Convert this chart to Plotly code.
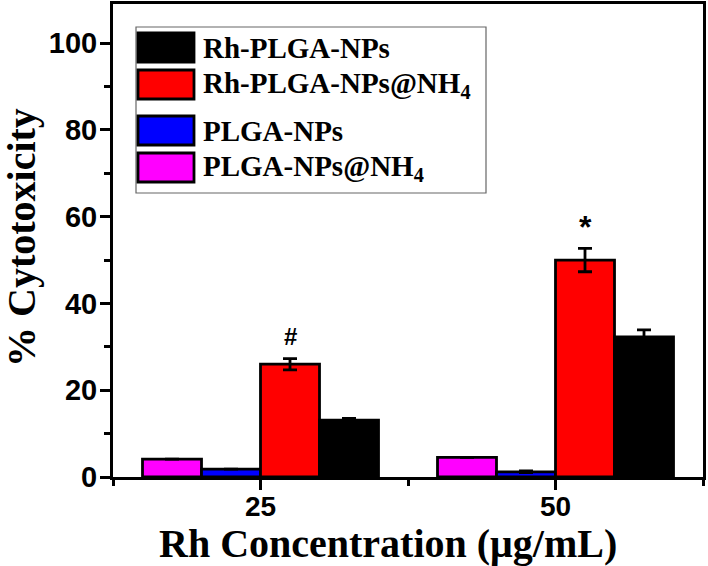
import plotly.graph_objects as go

# ---- data ----
concentrations = [25, 50]
series_names = ["PLGA-NPs@NH<sub>4</sub>", "PLGA-NPs", "Rh-PLGA-NPs@NH<sub>4</sub>", "Rh-PLGA-NPs"]
series_colors = ["#FF00FF", "#0000FF", "#FF0000", "#000000"]
plga_nh4 = [4.1, 4.5]
plga = [1.8, 1.2]
rh_plga_nh4 = [26.0, 50.0]
rh_plga = [13.1, 32.3]
plga_nh4_err = [0.0, 0.0]
plga_err = [0.0, 0.2]
rh_plga_nh4_err = [1.3, 2.7]
rh_plga_err = [0.4, 1.6]
significance = ["#", "*"]
legend_order = [3, 2, 1, 0]  # legend rows: black, red, blue, magenta
x_title = "Rh Concentration (μg/mL)"
y_title = "% Cytotoxicity"

values = [plga_nh4, plga, rh_plga_nh4, rh_plga]
errors = [plga_nh4_err, plga_err, rh_plga_nh4_err, rh_plga_err]

SERIF = "Liberation Serif"
SANS = "Liberation Sans"
sig_sizes = [24, 32]

fig = go.Figure()
for name, color, vals, errs in zip(series_names, series_colors, values, errors):
    fig.add_trace(go.Bar(
        x=concentrations, y=vals, name=name,
        marker=dict(color=color, line=dict(color="black", width=2.8)),
        error_y=dict(type="data", array=errs, visible=True, color="black",
                     thickness=2.8, width=7),
        showlegend=False,
    ))

# significance marks above the Rh-PLGA-NPs@NH4 bars
for c, v, e, s, fs in zip(concentrations, rh_plga_nh4, rh_plga_nh4_err, significance, sig_sizes):
    fig.add_annotation(x=c + 2.5, y=v + e + 5, text=s, showarrow=False,
                       xref="x", yref="y", yanchor="middle",
                       font=dict(family=SANS, size=fs, color="black", weight="bold"))

# plot-area geometry in pixels
L, R, T, B = 113, 703, 4, 477
def px(x):
    return (x - L) / (R - L)
def py(y):
    return (B - y) / (B - T)

# manual legend (large swatches)
fig.add_shape(type="rect", xref="paper", yref="paper",
              x0=px(136), x1=px(486), y0=py(193), y1=py(27),
              line=dict(color="#666666", width=1.2), fillcolor="rgba(0,0,0,0)")
row_tops = [33, 70, 116, 153]
for row, idx in enumerate(legend_order):
    top = row_tops[row]
    fig.add_shape(type="rect", xref="paper", yref="paper",
                  x0=px(138), x1=px(194), y0=py(top + 29), y1=py(top),
                  line=dict(color="black", width=2.8), fillcolor=series_colors[idx])
    fig.add_annotation(xref="paper", yref="paper", x=px(201), y=py(top + 15),
                       xanchor="left", yanchor="middle", showarrow=False,
                       text=series_names[idx],
                       font=dict(family=SERIF, size=29, color="black", weight="bold"))

# axis titles
fig.add_annotation(xref="paper", yref="paper", x=px(388), y=py(543),
                   xanchor="center", yanchor="middle", showarrow=False,
                   text=x_title,
                   font=dict(family=SERIF, size=40, color="black", weight="bold"))
fig.add_annotation(xref="paper", yref="paper", x=px(21), y=py(238),
                   xanchor="center", yanchor="middle", showarrow=False,
                   textangle=-90, text=y_title,
                   font=dict(family=SERIF, size=40, color="black", weight="bold"))

fig.update_layout(
    width=708, height=566,
    margin=dict(l=L, r=708 - R, t=T, b=566 - B, autoexpand=False),
    paper_bgcolor="white", plot_bgcolor="white",
    barmode="group", bargap=0.2, bargroupgap=0,
    showlegend=False,
)
fig.update_xaxes(
    type="linear", range=[12.5, 62.5], tickvals=concentrations,
    ticktext=[str(c) for c in concentrations], automargin=False,
    showline=True, linewidth=3, linecolor="black", mirror=True,
    ticks="outside", ticklen=10, tickwidth=3, tickcolor="black",
    ticklabelstandoff=-8,
    minor=dict(tickvals=[12.5, 37.5, 62.5], ticks="outside", ticklen=6, tickwidth=3, tickcolor="black"),
    showgrid=False, zeroline=False,
    tickfont=dict(family=SANS, size=28, color="black", weight="bold"),
)
fig.update_yaxes(
    range=[0, 109], dtick=20, tick0=0, automargin=False,
    showline=True, linewidth=3, linecolor="black", mirror=True,
    ticks="outside", ticklen=10, tickwidth=3, tickcolor="black",
    ticklabelstandoff=-3,
    minor=dict(dtick=10, ticks="outside", ticklen=6, tickwidth=3, tickcolor="black"),
    showgrid=False, zeroline=False,
    tickfont=dict(family=SANS, size=29, color="black", weight="bold"),
)

fig.write_html("out.html", config={"displayModeBar": False},
               post_script="document.body.style.margin='0';")
